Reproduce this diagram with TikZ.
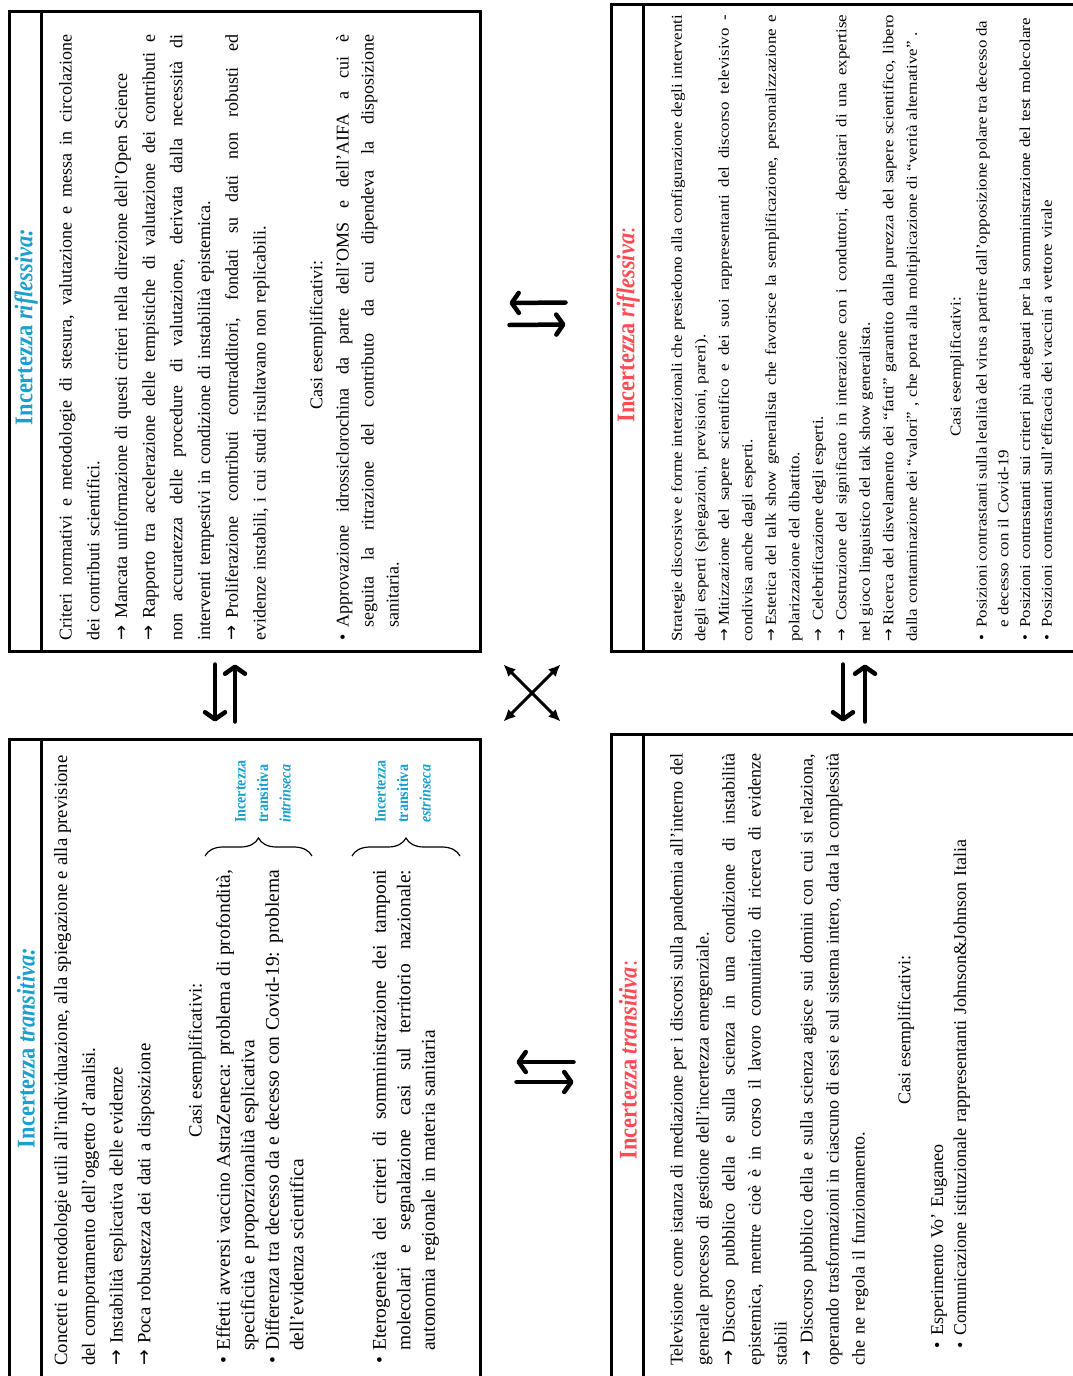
\documentclass[tikz,border=0pt]{standalone}
\usepackage{fontspec}
\setmainfont{Liberation Serif}
\newfontfamily\testofont{Liberation Serif}
\newfontfamily\fittofont{Liberation Serif}[FakeStretch=1.12]
\newfontfamily\titolofont{Liberation Serif}[FakeStretch=0.88]
\newfontfamily\simbolofont{DejaVu Sans}
\usetikzlibrary{arrows.meta, calc, decorations.pathreplacing}
\definecolor{azzurro}{RGB}{25,160,205}
\definecolor{rosso}{RGB}{255,75,85}

\newcommand{\freccia}[1][22pt]{\makebox[#1][l]{\simbolofont →}}
\newcommand{\punto}{\makebox[13pt][l]{•}}
\newcommand{\riga}[1]{{\spaceskip=0pt\xspaceskip=0pt\makebox[\hsize][s]{#1}}\par}
\newcommand{\rigar}[1]{{\spaceskip=0pt\xspaceskip=0pt\hspace*{13pt}\makebox[\dimexpr\hsize-13pt\relax][s]{#1}}\par}
\newcommand{\rientro}[1]{\hspace*{13pt}#1\par}

\begin{document}
\begin{tikzpicture}[x=1pt, y=-1pt,
    cornice/.style={draw, line width=3pt, inner sep=0pt},
    divisore/.style={line width=2.5pt},
    titolo/.style={rotate=90, inner sep=0pt, text=#1, font=\titolofont\bfseries\fontsize{25.5}{28}\selectfont},
    corpo/.style n args={3}{rotate=90, anchor=north west, inner sep=0pt, text width=#1, align=left, font=\testofont\fontsize{#3}{#2}\selectfont},
    fitto/.style 2 args={rotate=90, anchor=north west, inner sep=0pt, text width=#1, align=left, font=\fittofont\fontsize{15.1}{#2}\selectfont},
    casi/.style={rotate=90, inner sep=0pt, font=\testofont\fontsize{#1}{20}\selectfont},
    etichetta/.style={rotate=90, anchor=north west, inner sep=0pt, align=left, text=azzurro, font=\titolofont\bfseries\fontsize{16}{22.5}\selectfont},
    graffa/.style={decorate, decoration={brace, amplitude=18pt}, line width=1.2pt},
    coppia/.style={line width=4.5pt, line cap=round, -{Straight Barb[length=7pt, width=20pt, round]}},
    incrocio/.style={line width=3pt, {Latex[length=12pt, width=11pt]}-{Latex[length=12pt, width=11pt]}}
]
\path[use as bounding box, fill=white] (0,0) rectangle (1072,1376);

% Frames
\node[cornice, minimum width=471pt, minimum height=640pt] (boxA) at (244.5,331) {};
\node[cornice, minimum width=471pt, minimum height=646pt] (boxB) at (244.5,1062) {};
\node[cornice, minimum width=469pt, minimum height=651pt] (boxC) at (845.5,1059.5) {};
\node[cornice, minimum width=469pt, minimum height=647pt] (boxD) at (845.5,327.5) {};

\draw[divisore] ($(boxA.north west)+(34,0)$) -- ($(boxA.south west)+(34,0)$);
\draw[divisore] ($(boxB.north west)+(34,0)$) -- ($(boxB.south west)+(34,0)$);
\draw[divisore] ($(boxC.north west)+(34,0)$) -- ($(boxC.south west)+(34,0)$);
\draw[divisore] ($(boxD.north west)+(34,0)$) -- ($(boxD.south west)+(34,0)$);

% Titles
\node[titolo=azzurro] (titoloA) at (26,327) {Incertezza \textit{riflessiva:}};
\node[titolo=azzurro] (titoloB) at (26,1048) {Incertezza \textit{transitiva:}};
\node[titolo=rosso] (titoloC) at (628,1060) {Incertezza \textit{transitiva}{\mdseries:}};
\node[titolo=rosso] (titoloD) at (628,325) {Incertezza \textit{riflessiva}{\mdseries:}};

% Incertezza riflessiva (A)
\node[corpo={606pt}{27.7}{18}] (testoA) at (59,641) {%
\riga{Criteri normativi e metodologie di stesura, valutazione e messa in circolazione}
dei contributi scientifici.\par
\freccia Mancata uniformazione di questi criteri nella direzione dell’Open Science\par
\riga{\freccia Rapporto tra accelerazione delle tempistiche di valutazione dei contributi e}
\riga{non accuratezza delle procedure di valutazione, derivata dalla necessità di}
interventi tempestivi in condizione di instabilità epistemica.\par
\riga{\freccia Proliferazione contributi contradditori, fondati su dati non robusti ed}
evidenze instabili, i cui studi risultavano non replicabili.\par};
\node[casi=18] (casiA) at (318,335) {Casi esemplificativi:};
\node[corpo={606pt}{25}{18}] (esempiA) at (336,641) {%
\riga{\punto Approvazione idrossiclorochina da parte dell’OMS e dell’AIFA a cui è}
\rigar{seguita la ritrazione del contributo da cui dipendeva la disposizione}
\rientro{sanitaria.}};

% Incertezza transitiva (B)
\node[corpo={610pt}{27.7}{18.7}] (testoB) at (54,1366) {%
\riga{Concetti e metodologie utili all’individuazione, alla spiegazione e alla previsione}
del comportamento dell’oggetto d’analisi.\par
\freccia Instabilità esplicativa delle evidenze\par
\freccia Poca robustezza dei dati a disposizione\par};
\node[casi=18.7] (casiB) at (197,1060) {Casi esemplificativi:};
\node[corpo={494pt}{24.5}{19.5}] (intrB) at (216,1364) {%
\riga{\punto Effetti avversi vaccino AstraZeneca: problema di profondità,}
\rientro{specificità e proporzionalità esplicativa}
\riga{\punto Differenza tra decesso da e decesso con Covid-19: problema}
\rientro{dell’evidenza scientifica}};
\node[corpo={494pt}{24.5}{19.5}] (estrB) at (372,1364) {%
\riga{\punto Eterogeneità dei criteri di somministrazione dei tamponi}
\rigar{molecolari e segnalazione casi sul territorio nazionale:}
\rientro{autonomia regionale in materia sanitaria}};

\draw[graffa] (205,856) -- (312,856);
\draw[graffa] (352,856) -- (460,856);
\node[etichetta] (intrinseca) at (235,823) {Incertezza\\transitiva\\\textit{intrinseca}};
\node[etichetta] (estrinseca) at (375,823) {Incertezza\\transitiva\\\textit{estrinseca}};

% Incertezza transitiva (C)
\node[corpo={612pt}{26}{18}] (testoC) at (670,1366) {%
\riga{Televisione come istanza di mediazione per i discorsi sulla pandemia all’interno del}
generale processo di gestione dell’incertezza emergenziale.\par
\riga{\freccia Discorso pubblico della e sulla scienza in una condizione di instabilità}
\riga{epistemica, mentre cioè è in corso il lavoro comunitario di ricerca di evidenze}
stabili\par
\riga{\freccia Discorso pubblico della e sulla scienza agisce sui domini con cui si relaziona,}
\riga{operando trasformazioni in ciascuno di essi e sul sistema intero, data la complessità}
che ne regola il funzionamento.\par};
\node[casi=18] (casiC) at (906,1030) {Casi esemplificativi:};
\node[corpo={600pt}{23}{18}] (esempiC) at (931,1349) {%
\mbox{\punto Esperimento Vo’ Euganeo}\par
\mbox{\punto Comunicazione istituzionale rappresentanti Johnson\&Johnson Italia}\par};

% Incertezza riflessiva (D)
\node[fitto={627pt}{23.5}] (testoD) at (671,642) {%
\riga{Strategie discorsive e forme interazionali che presiedono alla configurazione degli interventi}
\mbox{degli esperti (spiegazioni, previsioni, pareri).}\par
\riga{\freccia[16pt]Mitizzazione del sapere scientifico e dei suoi rappresentanti del discorso televisivo -}
\mbox{condivisa anche dagli esperti.}\par
\riga{\freccia[16pt]Estetica del talk show generalista che favorisce la semplificazione, personalizzazione e}
\mbox{polarizzazione del dibattito.}\par
\mbox{\freccia[21pt]Celebrificazione degli esperti.}\par
\riga{\freccia[21pt]Costruzione del significato in interazione con i conduttori, depositari di una expertise}
\mbox{nel gioco linguistico del talk show generalista.}\par
\riga{\freccia[16pt]Ricerca del disvelamento dei “fatti” garantito dalla purezza del sapere scientifico, libero}
\mbox{dalla contaminazione dei “valori” , che porta alla moltiplicazione di “verità alternative” .}\par};
\node[casi, font=\fittofont\fontsize{15.1}{20}\selectfont] (casiD) at (957,367) {Casi esemplificativi:};
\node[fitto={620pt}{21.7}] (esempiD) at (976,641) {%
\riga{\punto Posizioni contrastanti sulla letalità del virus a partire dall’opposizione polare tra decesso da}
\rientro{e decesso con il Covid-19}
\mbox{\punto Posizioni contrastanti sui criteri più adeguati per la somministrazione del test molecolare}\par
\mbox{\punto Posizioni contrastanti sull’efficacia dei vaccini a vettore virale}\par};

% Arrows
\draw[coppia] ($(boxA.south)+(-29.5,12)$) -- ($(boxB.north)+(-29.5,-16)$);
\draw[coppia] ($(boxB.north)+(-9.5,-16)$) -- ($(boxA.south)+(-9.5,12)$);

\draw[coppia] ($(boxD.south)+(-2.5,12)$) -- ($(boxC.north)+(-2.5,-11)$);
\draw[coppia] ($(boxC.north)+(19.5,-11)$) -- ($(boxD.south)+(19.5,12)$);

\draw[coppia] ($(boxD.west)+(-44,-25)$) -- ($(boxA.east)+(28,-28)$);
\draw[coppia] ($(boxA.east)+(28,-6)$) -- ($(boxD.west)+(-44,-3)$);

\draw[coppia] ($(boxC.west)+(-36,2.5)$) -- ($(boxB.east)+(35,0)$);
\draw[coppia] ($(boxB.east)+(35,20)$) -- ($(boxC.west)+(-36,22.5)$);

\draw[incrocio] ($(boxA.south east)+(22,12)$) -- ($(boxC.north west)+(-49,-11)$);
\draw[incrocio] ($(boxD.south west)+(-49,12)$) -- ($(boxB.north east)+(22,-16)$);

\end{tikzpicture}
\end{document}
